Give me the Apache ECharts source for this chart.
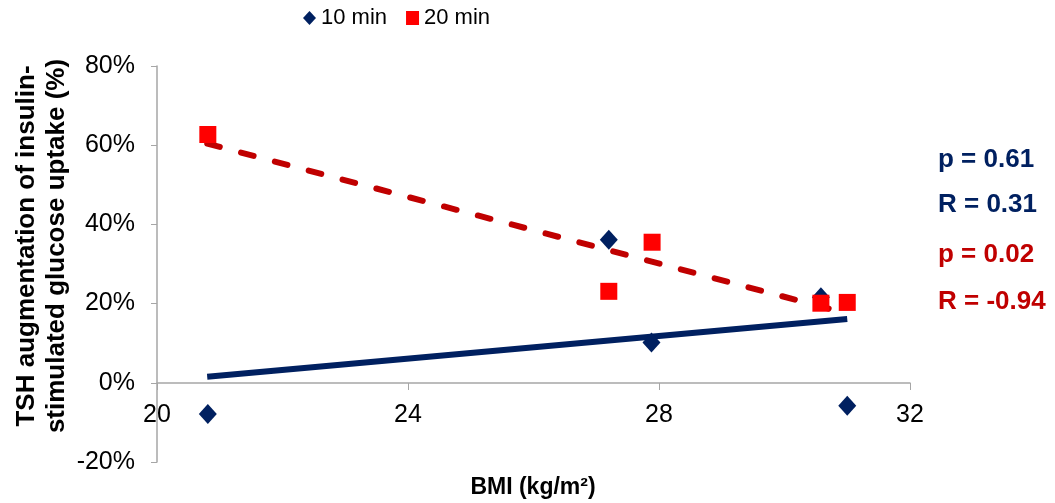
<!DOCTYPE html>
<html>
<head>
<meta charset="utf-8">
<script src="https://cdn.jsdelivr.net/npm/echarts@6/dist/echarts.min.js"></script>
<style>
  html, body { margin: 0; padding: 0; background: #fff; }
  #chart { width: 1055px; height: 503px; }
</style>
</head>
<body>
<div id="chart"></div>
<script>
// values
var bmi10 = [20.81, 27.2, 27.88, 30.58, 31.0];
var tsh10 = [-7.9, 36.1, 10.2, 21.6, -5.8];
var bmi20 = [20.81, 27.2, 27.89, 30.58, 31.0];
var tsh20 = [62.7, 23.1, 35.5, 20.1, 20.3];
// trend line end points
var trendX = [20.8, 31.0];
var trend10 = [1.5, 16.1];
var trend20 = [60.4, 17.5];
var seriesNames = ['10 min', '20 min'];
var statsText = ['p = 0.61', 'R = 0.31', 'p = 0.02', 'R = -0.94'];

var navy = '#002060';
var red = '#ff0000';
var darkRed = '#c00000';
var axisGray = '#a6a6a6';
var font = '"Liberation Sans", Arial, sans-serif';

function pairs(xs, ys) {
  return xs.map(function (x, i) { return [x, ys[i]]; });
}

var chart = echarts.init(document.getElementById('chart'));

var option = {
  animation: false,
  textStyle: { fontFamily: font },
  grid: { left: 157, right: 145, top: 66, bottom: 41 },
  legend: {
    data: [
      { name: seriesNames[0], icon: 'diamond' },
      { name: seriesNames[1], icon: 'rect' }
    ],
    left: 303,
    top: 7,
    padding: 0,
    itemWidth: 13,
    itemHeight: 14,
    itemGap: 19,
    textStyle: { fontSize: 22, color: '#000', fontFamily: font }
  },
  xAxis: {
    type: 'value',
    min: 20,
    max: 32,
    interval: 4,
    // axis drawn at the 0% level, like the reference
    offset: -79,
    axisLine: { onZero: false, lineStyle: { color: axisGray, width: 1.5 } },
    axisTick: { show: true, length: 7, lineStyle: { color: axisGray } },
    axisLabel: { fontSize: 25, color: '#000', margin: 20 },
    splitLine: { show: false }
  },
  yAxis: {
    type: 'value',
    min: -20,
    max: 80,
    interval: 20,
    axisLine: { show: true, lineStyle: { color: axisGray, width: 1.5 } },
    axisTick: { show: true, length: 6, lineStyle: { color: axisGray } },
    axisLabel: { fontSize: 25, color: '#000', margin: 22, formatter: '{value}%' },
    splitLine: { show: false }
  },
  series: [
    {
      type: 'line',
      data: pairs(trendX, trend10),
      symbol: 'none',
      z: 2,
      lineStyle: { color: navy, width: 6 }
    },
    {
      type: 'line',
      data: pairs(trendX, trend20),
      symbol: 'none',
      z: 2,
      lineStyle: { color: darkRed, width: 6, type: [13, 22], cap: 'round' }
    },
    {
      name: seriesNames[0],
      type: 'scatter',
      data: pairs(bmi10, tsh10),
      symbol: 'diamond',
      symbolSize: [18, 20],
      z: 3,
      itemStyle: { color: navy, opacity: 1 }
    },
    {
      name: seriesNames[1],
      type: 'scatter',
      data: pairs(bmi20, tsh20),
      symbol: 'rect',
      symbolSize: 17,
      z: 4,
      itemStyle: { color: red, opacity: 1 }
    }
  ],
  graphic: [
    {
      type: 'text',
      x: 42,
      y: 246,
      rotation: Math.PI / 2,
      style: {
        text: 'TSH augmentation of insulin-\nstimulated glucose uptake (%)',
        font: 'bold 26px ' + font,
        lineHeight: 30,
        fill: '#000',
        textAlign: 'center',
        textVerticalAlign: 'middle'
      }
    },
    {
      type: 'text',
      x: 533,
      y: 488,
      style: {
        text: 'BMI (kg/m²)',
        font: 'bold 23px ' + font,
        fill: '#000',
        textAlign: 'center',
        textVerticalAlign: 'middle'
      }
    },
    {
      type: 'text', x: 938, y: 160,
      style: { text: statsText[0], font: 'bold 26px ' + font, fill: navy, textVerticalAlign: 'middle' }
    },
    {
      type: 'text', x: 938, y: 205,
      style: { text: statsText[1], font: 'bold 26px ' + font, fill: navy, textVerticalAlign: 'middle' }
    },
    {
      type: 'text', x: 938, y: 255,
      style: { text: statsText[2], font: 'bold 26px ' + font, fill: darkRed, textVerticalAlign: 'middle' }
    },
    {
      type: 'text', x: 938, y: 302,
      style: { text: statsText[3], font: 'bold 26px ' + font, fill: darkRed, textVerticalAlign: 'middle' }
    }
  ]
};

chart.setOption(option);
</script>
</body>
</html>
